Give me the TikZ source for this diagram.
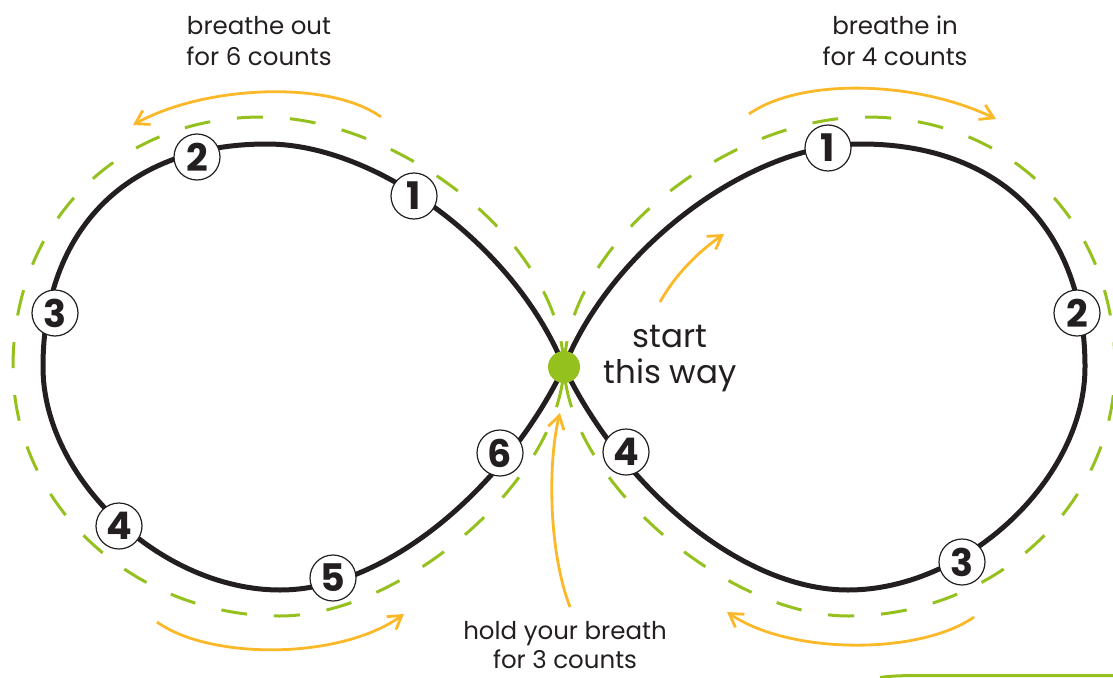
\documentclass[tikz,border=0pt]{standalone}
\usepackage{fontspec}
\setmainfont{Poppins}
\usetikzlibrary{arrows.meta}
\definecolor{eightblack}{HTML}{231F20}
\definecolor{leafgreen}{HTML}{95C11F}
\definecolor{sunorange}{HTML}{FBB829}
\tikzset{
 loopline/.style={draw=eightblack, line width=5pt},
 dashline/.style={draw=leafgreen, line width=3pt, dash pattern=on 26pt off 27pt},
 flowarrow/.style={draw=sunorange, line width=2.8pt, -{Straight Barb[length=13pt,width=16pt]}},
 countmark/.style={circle, draw=eightblack, line width=1.2pt, fill=white, minimum size=46pt, inner sep=0pt, font=\fontsize{38}{38}\selectfont\bfseries, text=eightblack},
 caption/.style={align=center, anchor=base, text=eightblack, font=\fontsize{24.5}{32}\selectfont},
}
\begin{document}
\begin{tikzpicture}[x=1pt,y=-1pt]
\useasboundingbox (0,0) rectangle (1113,677);
% green dashed guide loops
\begin{scope}[shift={(564,367)}]
 \draw[dashline] (0,0) .. controls (-5,-130) and (-170,-250) .. (-302,-250) .. controls (-446,-250) and (-551,-145) .. (-551,0) .. controls (-551,137) and (-431,249) .. (-284,249) .. controls (-164,249) and (-5,115) .. (0,0);
\end{scope}
\begin{scope}[shift={(564,367)},xscale=-1]
 \draw[dashline] (0,0) .. controls (-5,-130) and (-170,-250) .. (-302,-250) .. controls (-446,-250) and (-551,-145) .. (-551,0) .. controls (-551,137) and (-431,249) .. (-284,249) .. controls (-164,249) and (-5,115) .. (0,0);
\end{scope}
% black figure eight
\begin{scope}[shift={(564,367)}]
 \draw[loopline] (0,0) .. controls (-48,-120) and (-187,-223) .. (-297,-223) .. controls (-436,-223) and (-521,-138) .. (-521,0) .. controls (-521,111.5) and (-402.5,223) .. (-284,223) .. controls (-174,223) and (-55,115) .. (0,0);
\end{scope}
\begin{scope}[shift={(564,367)},xscale=-1]
 \draw[loopline] (0,0) .. controls (-48,-120) and (-187,-223) .. (-297,-223) .. controls (-436,-223) and (-521,-138) .. (-521,0) .. controls (-521,111.5) and (-402.5,223) .. (-284,223) .. controls (-174,223) and (-55,115) .. (0,0);
\end{scope}
% arrow end points
\coordinate (outS) at (381,117);
\coordinate (outE) at (133,125);
\coordinate (inS) at (749,114);
\coordinate (inE) at (996,119);
\coordinate (blS) at (157,622);
\coordinate (blE) at (404,614);
\coordinate (brS) at (974,617);
\coordinate (brE) at (727,612);
\coordinate (stS) at (660,302);
\coordinate (stE) at (724,234);
\coordinate (hdS) at (570,607);
\coordinate (hdE) at (560,413);
% orange arrows
\draw[flowarrow] (outS) .. controls (330,80) and (205,85) .. (outE);
\draw[flowarrow] (inS) .. controls (800,78) and (915,80) .. (inE);
\draw[flowarrow] (blS) .. controls (210,660) and (340,660) .. (blE);
\draw[flowarrow] (brS) .. controls (920,655) and (790,655) .. (brE);
\draw[flowarrow] (stS) .. controls (675,275) and (698,252) .. (stE);
\draw[flowarrow] (hdS) .. controls (548,550) and (548,460) .. (hdE);
% count markers
\node[countmark] (l1) at (414,196) {1};
\node[countmark] (l2) at (197,157) {2};
\node[countmark] (l3) at (55,313) {3};
\node[countmark] (l4) at (119,526) {4};
\node[countmark] (l5) at (333,578) {5};
\node[countmark] (l6) at (500,453) {6};
\node[countmark] (r1) at (828,148) {1};
\node[countmark] (r2) at (1077,313) {2};
\node[countmark] (r3) at (962,562) {3};
\node[countmark] (r4) at (626,452) {4};
% start dot
\node[circle, fill=leafgreen, minimum size=32pt, inner sep=0pt] (startdot) at (564,367) {};
% partial green frame at the lower right
\draw[leafgreen, line width=3pt] (880,677.5) .. controls (890,676) and (900,675.5) .. (925,675.5) -- (1113,675.5);
% captions (base anchor = last line)
\node[caption] (outtext) at (259,66) {breathe out\\for 6 counts};
\node[caption] (intext) at (895,66) {breathe in\\for 4 counts};
\node[caption, font=\fontsize{32.5}{36}\selectfont] (starttext) at (670,383) {start\\this way};
\node[caption, font=\fontsize{24.5}{29}\selectfont] (holdtext) at (565,668) {hold your breath\\for 3 counts};
\end{tikzpicture}
\end{document}
